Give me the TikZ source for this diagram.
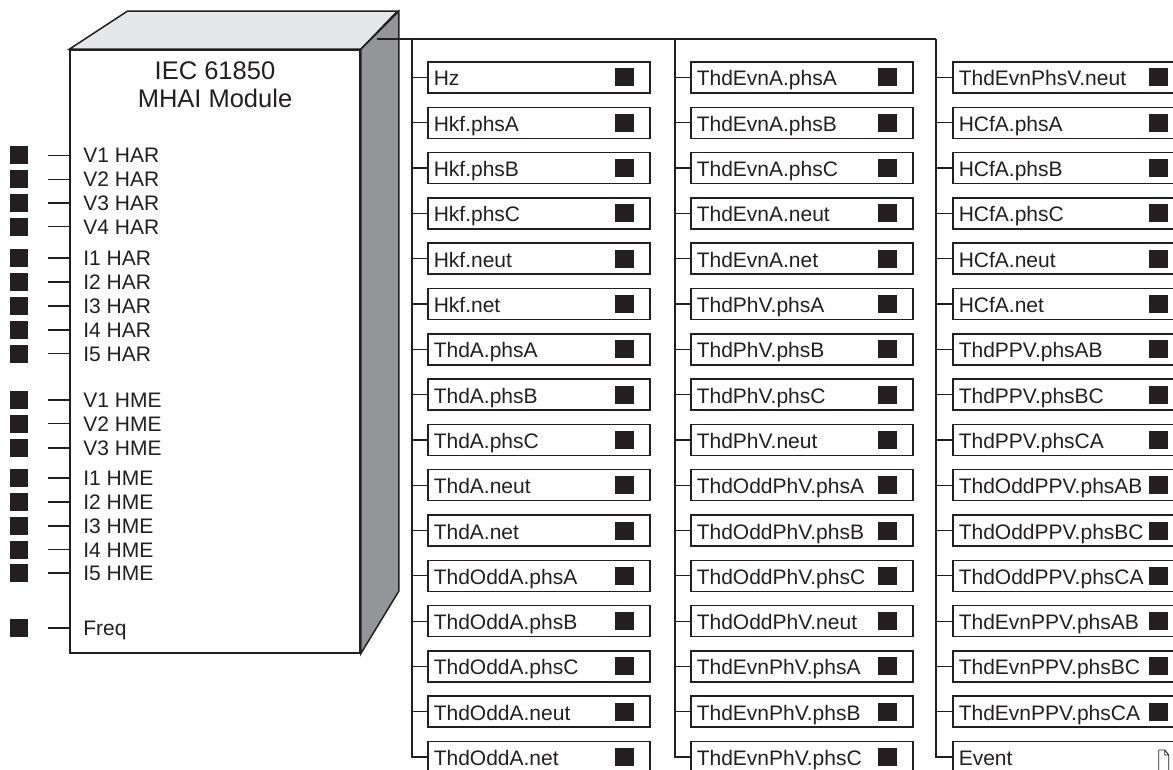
\documentclass[tikz,border=0pt]{standalone}
\usepackage{fontspec}
\setmainfont{Liberation Sans}
\usetikzlibrary{positioning}
\definecolor{ink}{HTML}{231F20}
\definecolor{lidgray}{HTML}{E6E7E8}
\definecolor{sidegray}{HTML}{939598}

\begin{document}
\begin{tikzpicture}[x=1pt, y=-1pt,
module/.style={rectangle, draw=ink, line width=1.5pt, fill=white, minimum width=290pt, minimum height=603pt, inner sep=0pt},
title/.style={align=center, inner sep=0pt, text=ink, font=\fontsize{25.5}{28}\selectfont},
pin/.style={rectangle, fill=ink, minimum size=18pt, inner sep=0pt},
pinlabel/.style={inner sep=0pt, text height=15pt, text depth=0pt, text=ink, font=\fontsize{21}{24}\selectfont},
point/.style={rectangle, draw=ink, line width=1.5pt, anchor=west, minimum height=31pt, text width=210pt, align=left, inner xsep=6pt, inner ysep=0pt, text height=17pt, text depth=0pt, text=ink, font=\fontsize{21}{24}\selectfont,
  path picture={\fill[ink] ([xshift=-16pt]path picture bounding box.east) ++(-19pt,-9pt) rectangle ++(19pt,18pt);}},
wide/.style={text width=219pt},
file/.style={path picture={\draw[ink, line width=0.8pt] ([xshift=-25pt,yshift=7pt]path picture bounding box.east) -- ++(6pt,0pt) -- ++(4pt,-5pt) -- ++(0pt,-18pt) -- ++(-10pt,0pt) -- cycle
  ([xshift=-19pt,yshift=7pt]path picture bounding box.east) -- ++(0pt,-5pt) -- ++(4pt,0pt);}},
wire/.style={draw=ink, line width=1.2pt}
]
\clip (0,0) rectangle (1173,770);

% module block
\node[module] (mhai) at (215,351.5) {};
\fill[lidgray, draw=ink, line width=1.5pt] (mhai.north west) -- ++(58,-38) -- ++(270,0) -- (mhai.north east) -- cycle;
\fill[sidegray, draw=ink, line width=1.5pt] (mhai.north east) -- ++(38,-38) -- ++(0,580) -- (mhai.south east) -- cycle;
\node[title, anchor=north] (name) at ([yshift=-12pt]mhai.north) {IEC 61850\\MHAI Module};

% inputs
\node[pin] (v1har) at (19,155.5) {};
\node[pin] (v2har) at (19,179.2) {};
\node[pin] (v3har) at (19,203) {};
\node[pin] (v4har) at (19,226.6) {};
\node[pin] (i1har) at (19,258) {};
\node[pin] (i2har) at (19,282) {};
\node[pin] (i3har) at (19,306) {};
\node[pin] (i4har) at (19,330) {};
\node[pin] (i5har) at (19,353.5) {};
\node[pin] (v1hme) at (19,400) {};
\node[pin] (v2hme) at (19,423.5) {};
\node[pin] (v3hme) at (19,448) {};
\node[pin] (i1hme) at (19,478) {};
\node[pin] (i2hme) at (19,502) {};
\node[pin] (i3hme) at (19,526) {};
\node[pin] (i4hme) at (19,549.5) {};
\node[pin] (i5hme) at (19,573) {};
\node[pin] (freq) at (19,628) {};
\node[pinlabel, right=55pt of v1har] (lv1har) {V1 HAR};
\node[pinlabel, right=55pt of v2har] (lv2har) {V2 HAR};
\node[pinlabel, right=55pt of v3har] (lv3har) {V3 HAR};
\node[pinlabel, right=55pt of v4har] (lv4har) {V4 HAR};
\node[pinlabel, right=55pt of i1har] (li1har) {I1 HAR};
\node[pinlabel, right=55pt of i2har] (li2har) {I2 HAR};
\node[pinlabel, right=55pt of i3har] (li3har) {I3 HAR};
\node[pinlabel, right=55pt of i4har] (li4har) {I4 HAR};
\node[pinlabel, right=55pt of i5har] (li5har) {I5 HAR};
\node[pinlabel, right=55pt of v1hme] (lv1hme) {V1 HME};
\node[pinlabel, right=55pt of v2hme] (lv2hme) {V2 HME};
\node[pinlabel, right=55pt of v3hme] (lv3hme) {V3 HME};
\node[pinlabel, right=55pt of i1hme] (li1hme) {I1 HME};
\node[pinlabel, right=55pt of i2hme] (li2hme) {I2 HME};
\node[pinlabel, right=55pt of i3hme] (li3hme) {I3 HME};
\node[pinlabel, right=55pt of i4hme] (li4hme) {I4 HME};
\node[pinlabel, right=55pt of i5hme] (li5hme) {I5 HME};
\node[pinlabel, right=55pt of freq] (lfreq) {Freq};
\draw[wire] ([xshift=20pt]v1har.east) -- (v1har -| mhai.west);
\draw[wire] ([xshift=20pt]v2har.east) -- (v2har -| mhai.west);
\draw[wire] ([xshift=20pt]v3har.east) -- (v3har -| mhai.west);
\draw[wire] ([xshift=20pt]v4har.east) -- (v4har -| mhai.west);
\draw[wire] ([xshift=20pt]i1har.east) -- (i1har -| mhai.west);
\draw[wire] ([xshift=20pt]i2har.east) -- (i2har -| mhai.west);
\draw[wire] ([xshift=20pt]i3har.east) -- (i3har -| mhai.west);
\draw[wire] ([xshift=20pt]i4har.east) -- (i4har -| mhai.west);
\draw[wire] ([xshift=20pt]i5har.east) -- (i5har -| mhai.west);
\draw[wire] ([xshift=20pt]v1hme.east) -- (v1hme -| mhai.west);
\draw[wire] ([xshift=20pt]v2hme.east) -- (v2hme -| mhai.west);
\draw[wire] ([xshift=20pt]v3hme.east) -- (v3hme -| mhai.west);
\draw[wire] ([xshift=20pt]i1hme.east) -- (i1hme -| mhai.west);
\draw[wire] ([xshift=20pt]i2hme.east) -- (i2hme -| mhai.west);
\draw[wire] ([xshift=20pt]i3hme.east) -- (i3hme -| mhai.west);
\draw[wire] ([xshift=20pt]i4hme.east) -- (i4hme -| mhai.west);
\draw[wire] ([xshift=20pt]i5hme.east) -- (i5hme -| mhai.west);
\draw[wire] ([xshift=20pt]freq.east) -- (freq -| mhai.west);

% outputs, first column
\node[point] (hz) at (427,77.5) {Hz};
\node[point] (hkfa) at (427,122.8) {Hkf.phsA};
\node[point] (hkfb) at (427,168.1) {Hkf.phsB};
\node[point] (hkfc) at (427,213.4) {Hkf.phsC};
\node[point] (hkfn) at (427,258.7) {Hkf.neut};
\node[point] (hkfnet) at (427,304) {Hkf.net};
\node[point] (thda) at (427,349.3) {ThdA.phsA};
\node[point] (thdb) at (427,394.6) {ThdA.phsB};
\node[point] (thdc) at (427,439.9) {ThdA.phsC};
\node[point] (thdn) at (427,485.2) {ThdA.neut};
\node[point] (thdnet) at (427,530.5) {ThdA.net};
\node[point] (oddaa) at (427,575.8) {ThdOddA.phsA};
\node[point] (oddab) at (427,621.1) {ThdOddA.phsB};
\node[point] (oddac) at (427,666.4) {ThdOddA.phsC};
\node[point] (oddan) at (427,711.7) {ThdOddA.neut};
\node[point] (oddanet) at (427,757) {ThdOddA.net};

% second column
\node[point] (evnaa) at (690,77.5) {ThdEvnA.phsA};
\node[point] (evnab) at (690,122.8) {ThdEvnA.phsB};
\node[point] (evnac) at (690,168.1) {ThdEvnA.phsC};
\node[point] (evnan) at (690,213.4) {ThdEvnA.neut};
\node[point] (evnanet) at (690,258.7) {ThdEvnA.net};
\node[point] (phva) at (690,304) {ThdPhV.phsA};
\node[point] (phvb) at (690,349.3) {ThdPhV.phsB};
\node[point] (phvc) at (690,394.6) {ThdPhV.phsC};
\node[point] (phvn) at (690,439.9) {ThdPhV.neut};
\node[point] (oddphva) at (690,485.2) {ThdOddPhV.phsA};
\node[point] (oddphvb) at (690,530.5) {ThdOddPhV.phsB};
\node[point] (oddphvc) at (690,575.8) {ThdOddPhV.phsC};
\node[point] (oddphvn) at (690,621.1) {ThdOddPhV.neut};
\node[point] (evnphva) at (690,666.4) {ThdEvnPhV.phsA};
\node[point] (evnphvb) at (690,711.7) {ThdEvnPhV.phsB};
\node[point] (evnphvc) at (690,757) {ThdEvnPhV.phsC};

% third column
\node[point, wide] (evnphsvn) at (952,77.5) {ThdEvnPhsV.neut};
\node[point, wide] (hcfa) at (952,122.8) {HCfA.phsA};
\node[point, wide] (hcfb) at (952,168.1) {HCfA.phsB};
\node[point, wide] (hcfc) at (952,213.4) {HCfA.phsC};
\node[point, wide] (hcfn) at (952,258.7) {HCfA.neut};
\node[point, wide] (hcfnet) at (952,304) {HCfA.net};
\node[point, wide] (ppvab) at (952,349.3) {ThdPPV.phsAB};
\node[point, wide] (ppvbc) at (952,394.6) {ThdPPV.phsBC};
\node[point, wide] (ppvca) at (952,439.9) {ThdPPV.phsCA};
\node[point, wide] (oddppvab) at (952,485.2) {ThdOddPPV.phsAB};
\node[point, wide] (oddppvbc) at (952,530.5) {ThdOddPPV.phsBC};
\node[point, wide] (oddppvca) at (952,575.8) {ThdOddPPV.phsCA};
\node[point, wide] (evnppvab) at (952,621.1) {ThdEvnPPV.phsAB};
\node[point, wide] (evnppvbc) at (952,666.4) {ThdEvnPPV.phsBC};
\node[point, wide] (evnppvca) at (952,711.7) {ThdEvnPPV.phsCA};
\node[point, wide, file] (event) at (952,757) {Event};

% output tree
\coordinate (out) at (377,39);
\coordinate (c1) at (412,39);
\coordinate (c2) at (675,39);
\coordinate (c3) at (936,39);
\draw[wire] (out) -- (c3);
\draw[wire] (c1) |- (hz) (c1) |- (hkfa) (c1) |- (hkfb) (c1) |- (hkfc)
  (c1) |- (hkfn) (c1) |- (hkfnet) (c1) |- (thda) (c1) |- (thdb)
  (c1) |- (thdc) (c1) |- (thdn) (c1) |- (thdnet) (c1) |- (oddaa)
  (c1) |- (oddab) (c1) |- (oddac) (c1) |- (oddan) (c1) |- (oddanet);
\draw[wire] (c2) |- (evnaa) (c2) |- (evnab) (c2) |- (evnac) (c2) |- (evnan)
  (c2) |- (evnanet) (c2) |- (phva) (c2) |- (phvb) (c2) |- (phvc)
  (c2) |- (phvn) (c2) |- (oddphva) (c2) |- (oddphvb) (c2) |- (oddphvc)
  (c2) |- (oddphvn) (c2) |- (evnphva) (c2) |- (evnphvb) (c2) |- (evnphvc);
\draw[wire] (c3) |- (evnphsvn) (c3) |- (hcfa) (c3) |- (hcfb) (c3) |- (hcfc)
  (c3) |- (hcfn) (c3) |- (hcfnet) (c3) |- (ppvab) (c3) |- (ppvbc)
  (c3) |- (ppvca) (c3) |- (oddppvab) (c3) |- (oddppvbc) (c3) |- (oddppvca)
  (c3) |- (evnppvab) (c3) |- (evnppvbc) (c3) |- (evnppvca) (c3) |- (event);
\end{tikzpicture}
\end{document}
